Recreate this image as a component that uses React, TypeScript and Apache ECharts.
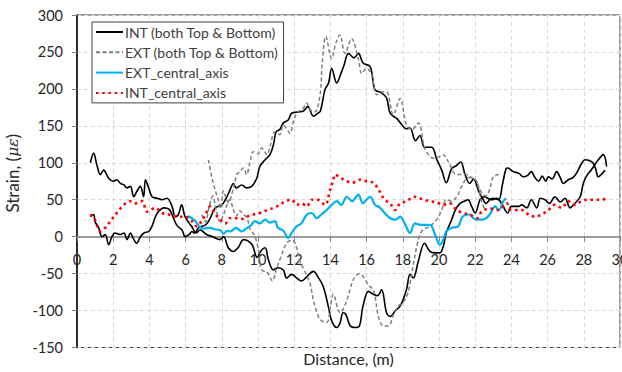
import React, { useEffect, useRef } from "react";
import * as echarts from "echarts";

// Distance (m) / strain (µε) pairs
const intUpperStart: number[][] = [
  [0.74, 100], [0.92, 113], [1.1, 97], [1.29, 84], [1.47, 90], [1.75, 79], [2.0, 75], [2.2, 77], [2.4, 72],
  [2.6, 70], [2.76, 66], [2.95, 68], [3.13, 54], [3.3, 61], [3.5, 68], [3.68, 54], [3.78, 77], [3.96, 66],
  [4.15, 54], [4.42, 52], [4.7, 50], [4.97, 52], [5.25, 41], [5.43, 27], [5.6, 30], [5.78, 43], [5.97, 27],
  [6.33, 14], [6.6, 5], [6.8, 9], [7.16, 3], [7.5, 0], [7.9, -4], [8.1, 0], [8.36, -15], [8.64, -20],
  [8.9, -15], [9.2, -4], [9.47, -6], [9.7, -12], [9.95, -28], [10.2, -18], [10.4, -15], [10.57, -31],
  [10.85, -45], [11.1, -42], [11.4, -45], [11.58, -56], [11.86, -51], [12.14, -56], [12.4, -60], [12.7, -54],
  [13.06, -47], [13.3, -54], [13.6, -67], [13.9, -96], [14.07, -114], [14.35, -123], [14.53, -117],
  [14.7, -103], [14.85, -105], [15.1, -121], [15.36, -123], [15.6, -121], [15.8, -94], [16.1, -74],
  [16.37, -78], [16.6, -80], [16.83, -72], [17.1, -103], [17.3, -108], [17.57, -101], [17.9, -92],
  [18.2, -72], [18.4, -51], [18.58, -56], [18.86, -33], [19.2, -9], [19.5, -20], [19.78, -22], [20.05, -22],
  [20.24, -13], [20.4, 5], [20.7, 23], [20.9, 36], [21.16, 45], [21.4, 48], [21.6, 50], [21.8, 41],
  [22.0, 32], [22.27, 50], [22.5, 54], [22.9, 50], [23.2, 52], [23.46, 45], [23.8, 32], [24.0, 41],
  [24.4, 41], [24.57, 43], [24.85, 39], [25.1, 50], [25.4, 39], [25.6, 52], [25.86, 50], [26.1, 45],
  [26.4, 54], [26.7, 47], [26.96, 52], [27.24, 39], [27.5, 45], [27.8, 54], [27.97, 72], [28.15, 82],
  [28.43, 91], [28.8, 104], [29.08, 111], [29.26, 95],
];

const intLowerStart: number[][] = [
  [0.74, 27], [0.92, 30], [1.0, 20], [1.2, 12], [1.38, 0], [1.56, 3], [1.75, -11], [1.93, 0], [2.1, 5],
  [2.4, 3], [2.6, 5], [2.76, -4], [2.95, 5], [3.1, -2], [3.3, -9], [3.5, 0], [3.7, 5], [3.96, 7], [4.14, 14],
  [4.33, 27], [4.5, 34], [4.8, 39], [5.1, 37], [5.25, 30], [5.5, 16], [5.8, 9], [5.98, 0], [6.2, 3],
  [6.35, 7], [6.5, 5], [6.72, 12], [7.1, 16], [7.3, 22], [7.64, 39], [8.0, 43], [8.2, 50], [8.45, 63],
  [8.64, 72], [8.8, 66], [9.1, 70], [9.37, 66], [9.65, 68], [9.93, 79], [10.1, 95], [10.39, 104],
  [10.66, 111], [10.85, 124], [11.0, 142], [11.2, 145], [11.4, 154], [11.67, 158], [11.86, 167],
  [12.3, 169], [12.5, 170], [12.75, 176], [13.06, 163], [13.3, 167], [13.45, 170], [13.7, 199],
  [13.9, 208], [14.07, 228], [14.35, 208], [14.6, 222], [14.75, 232], [15.0, 248], [15.3, 242],
  [15.55, 248], [15.8, 235], [16.2, 230], [16.46, 199], [16.8, 195], [17.1, 188], [17.3, 167],
  [17.66, 160], [17.93, 152], [18.2, 146], [18.4, 147], [18.7, 130], [18.95, 137], [19.2, 121],
  [19.6, 121], [19.87, 105], [20.15, 90], [20.4, 73], [20.7, 92], [20.95, 96], [21.2, 101], [21.44, 84],
  [21.7, 72], [21.9, 78], [22.2, 61], [22.4, 52], [22.6, 45], [22.8, 50], [23.0, 52], [23.3, 50],
  [23.5, 70], [23.7, 92], [23.8, 93], [24.1, 88], [24.4, 86], [24.66, 81], [24.9, 83], [25.1, 88],
  [25.3, 80], [25.5, 75], [25.7, 82], [25.9, 75], [26.04, 81], [26.25, 78], [26.5, 88], [26.7, 80],
  [26.87, 72], [27.14, 77], [27.4, 80], [27.6, 86], [27.9, 100], [28.07, 104], [28.3, 103], [28.5, 100],
  [28.65, 92], [28.8, 81], [29.0, 85], [29.17, 90],
];

const extUpper: number[][] = [
  [7.26, 104], [7.5, 75], [7.8, 50], [7.95, 38], [8.08, 62], [8.2, 55], [8.36, 46], [8.6, 62], [8.85, 85],
  [9.0, 88], [9.19, 93], [9.37, 84], [9.55, 100], [9.74, 115], [10.0, 112], [10.2, 120], [10.5, 111],
  [10.66, 122], [10.94, 142], [11.2, 138], [11.4, 151], [11.77, 140], [11.95, 156], [12.2, 169],
  [12.45, 172], [12.69, 181], [12.87, 172], [13.15, 169], [13.43, 192], [13.55, 235], [13.75, 271],
  [14.07, 241], [14.3, 262], [14.53, 273], [14.8, 248], [15.17, 268], [15.54, 241], [15.73, 221],
  [16.0, 228], [16.28, 219], [16.56, 192], [16.85, 196], [17.1, 196], [17.47, 165], [17.85, 187],
  [18.2, 151], [18.5, 145], [18.86, 154], [19.2, 120], [19.45, 110], [19.7, 106], [20.0, 108],
  [20.24, 111], [20.5, 102], [20.98, 84], [21.5, 84], [21.8, 80], [22.08, 75], [22.3, 52], [22.5, 38],
];

const extLower: number[][] = [
  [6.9, 30], [7.1, 20], [7.3, 40], [7.5, 55], [7.7, 35], [7.9, 20], [8.1, 30], [8.45, 50], [8.6, 40],
  [8.8, 28], [9.0, 35], [9.2, 30], [9.4, 25], [9.56, 10], [9.8, 2], [10.0, -15], [10.2, -45], [10.5, -48],
  [10.8, -60], [11.0, -45], [11.3, -25], [11.6, -8], [11.9, -5], [12.1, -12], [12.3, -32], [12.55, -45],
  [12.87, -63], [13.1, -90], [13.43, -112], [13.8, -116], [14.0, -95], [14.16, -78], [14.53, -103],
  [14.85, -90], [15.27, -58], [15.6, -50], [16.1, -65], [16.4, -74], [16.65, -108], [16.93, -121],
  [17.2, -121], [17.5, -105], [17.75, -94], [18.05, -88], [18.3, -75], [18.5, -49], [18.86, -4], [19.1, 9],
  [19.5, 14], [19.87, 23], [20.15, 36], [20.4, 50], [20.7, 48], [21.0, 55], [21.3, 70], [21.6, 80],
  [22.0, 77], [22.3, 62], [22.6, 55], [22.8, 64], [23.0, 81], [23.3, 84],
];

const extCentral: number[][] = [
  [6.15, 28], [6.5, 22], [6.8, 13], [7.0, 11], [7.35, 12], [7.6, 10], [7.9, 9], [8.1, 4], [8.3, 8],
  [8.45, 7], [8.8, 12], [9.1, 7], [9.4, 12], [9.6, 15], [9.83, 21], [10.1, 18], [10.4, 23], [10.65, 19],
  [10.94, 21], [11.1, 12], [11.4, 8], [11.67, -2], [11.86, 5], [12.14, 14], [12.4, 18], [12.7, 30],
  [12.97, 32], [13.24, 25], [13.5, 30], [13.8, 36], [14.07, 43], [14.35, 48], [14.6, 43], [14.9, 54],
  [15.2, 48], [15.54, 57], [15.8, 45], [16.0, 50], [16.2, 54], [16.46, 43], [16.7, 40], [17.0, 32],
  [17.3, 25], [17.6, 23], [17.85, 27], [18.1, 18], [18.4, 5], [18.67, 18], [19.0, 16], [19.5, 16],
  [19.78, 3], [20.05, -11], [20.24, -4], [20.4, 7], [20.7, 12], [21.07, 14], [21.3, 27], [21.7, 30],
  [21.9, 25], [22.1, 23], [22.4, 23], [22.6, 25], [22.8, 30], [23.1, 41], [23.3, 36], [23.55, 48],
  [23.7, 52],
];

const intCentral: number[][] = [
  [0.74, 30], [1.0, 22], [1.29, 7], [1.56, 12], [1.84, 21], [2.2, 32], [2.58, 43], [2.95, 48], [3.2, 45],
  [3.6, 48], [3.87, 34], [4.33, 39], [4.7, 32], [5.06, 30], [5.52, 27], [5.97, 27], [6.35, 21], [6.63, 14],
  [6.9, 22], [7.1, 30], [7.35, 41], [7.6, 32], [7.9, 23], [8.2, 18], [8.45, 25], [8.8, 25], [9.1, 24],
  [9.37, 27], [9.74, 30], [10.1, 32], [10.5, 36], [10.85, 39], [11.2, 43], [11.5, 48], [11.86, 50],
  [12.14, 43], [12.4, 45], [12.7, 41], [12.97, 50], [13.3, 50], [13.7, 43], [13.98, 63], [14.16, 77],
  [14.25, 84], [14.6, 79], [14.9, 75], [15.2, 73], [15.64, 77], [16.0, 75], [16.37, 73], [16.65, 64],
  [17.0, 50], [17.3, 45], [17.57, 36], [17.85, 45], [18.2, 48], [18.67, 54], [19.13, 50], [19.5, 48],
  [19.9, 46], [20.24, 43], [20.6, 45], [20.98, 36], [21.34, 32], [21.7, 30], [22.1, 25], [22.36, 34],
  [22.8, 38], [23.28, 36], [23.74, 45], [24.0, 36], [24.57, 36], [24.94, 30], [25.3, 27], [25.67, 30],
  [26.04, 36], [26.4, 43], [26.78, 39], [27.14, 48], [27.5, 43], [27.87, 48], [28.25, 50], [28.6, 50],
  [29.0, 50], [29.26, 52],
];

const legendNames = [
  "INT (both Top & Bottom)",
  "EXT (both Top & Bottom)",
  "EXT_central_axis",
  "INT_central_axis",
];

const FONT = "Lato";
const GRID_TOP = 15;
const GRID_BOTTOM = 24.5;
const CHART_H = 372;
const Y_MIN = -150;
const Y_MAX = 300;

export default function App() {
  const ref = useRef<HTMLDivElement>(null);

  useEffect(() => {
    if (!ref.current) return;
    const chart = echarts.init(ref.current, null, { renderer: "svg" });

    // distance from the bottom of the plot to the zero line, so the x axis sits on y = 0
    const plotH = CHART_H - GRID_TOP - GRID_BOTTOM;
    const zeroOffset = (plotH * (0 - Y_MIN)) / (Y_MAX - Y_MIN);
    const bottomEdge = CHART_H - GRID_BOTTOM;

    const intStyle = { color: "#000000", width: 1.6, type: "solid" as const };
    const extStyle = { color: "#7f7f7f", width: 1.5, type: [4, 2.5] as any };

    chart.setOption({
      animation: false,
      backgroundColor: "#ffffff",
      grid: {
        show: true,
        left: 77,
        right: 2,
        top: GRID_TOP,
        bottom: GRID_BOTTOM,
        borderColor: "#404040",
        borderWidth: 1,
        containLabel: false,
        outerBoundsMode: "none",
      },
      legend: {
        data: legendNames,
        orient: "vertical",
        left: 92,
        top: 22,
        itemWidth: 27,
        itemHeight: 14,
        itemGap: 6.3,
        padding: [3, 5, 3, 3],
        backgroundColor: "#ffffff",
        borderColor: "#404040",
        borderWidth: 1,
        borderRadius: 0,
        itemStyle: { opacity: 0 },
        textStyle: { fontFamily: FONT, fontSize: 14, color: "#404040", padding: [0, 0, 0, -3] },
      },
      xAxis: {
        type: "value",
        position: "bottom",
        offset: -zeroOffset,
        min: 0,
        max: 30,
        interval: 2,
        name: "Distance, (m)",
        nameLocation: "middle",
        nameGap: 359 - (bottomEdge - zeroOffset) - 9,
        nameTextStyle: { fontFamily: FONT, fontSize: 16, color: "#262626" },
        axisLine: { onZero: false, lineStyle: { color: "#808080", width: 1.5 } },
        axisTick: { show: true, length: 5, lineStyle: { color: "#808080" } },
        axisLabel: { fontFamily: FONT, fontSize: 14.5, color: "#262626", margin: 15 },
        splitLine: { show: true, lineStyle: { color: "#d9d9d9", type: [4, 3], width: 1 } },
      },
      yAxis: {
        type: "value",
        min: Y_MIN,
        max: Y_MAX,
        interval: 50,
        name: "Strain, ({i|με})",
        nameLocation: "middle",
        nameRotate: 90,
        nameGap: 52,
        nameTextStyle: {
          fontFamily: FONT,
          fontSize: 17,
          color: "#262626",
          padding: [0, 0, 0, 16],
          rich: { i: { fontStyle: "italic", fontFamily: "DejaVu Serif", fontSize: 15.5, color: "#262626" } },
        },
        axisLine: { show: true, onZero: false, lineStyle: { color: "#000000", width: 1.5 } },
        axisTick: { show: true, length: 5, lineStyle: { color: "#808080" } },
        axisLabel: { fontFamily: FONT, fontSize: 14.5, color: "#262626", margin: 14 },
        splitLine: { show: true, lineStyle: { color: "#d9d9d9", type: [4, 3], width: 1 } },
      },
      series: [
        { name: legendNames[0], type: "line", data: intUpperStart, showSymbol: false, symbol: "none", smooth: 0.35, lineStyle: intStyle, itemStyle: { color: "#000000" } },
        { name: legendNames[0], type: "line", data: intLowerStart, showSymbol: false, symbol: "none", smooth: 0.35, lineStyle: intStyle, itemStyle: { color: "#000000" } },
        { name: legendNames[1], type: "line", data: extUpper, showSymbol: false, symbol: "none", smooth: 0.35, lineStyle: extStyle, itemStyle: { color: "#7f7f7f" } },
        { name: legendNames[1], type: "line", data: extLower, showSymbol: false, symbol: "none", smooth: 0.35, lineStyle: extStyle, itemStyle: { color: "#7f7f7f" } },
        { name: legendNames[2], type: "line", data: extCentral, showSymbol: false, symbol: "none", smooth: 0.35, lineStyle: { color: "#00b0f0", width: 2.2 }, itemStyle: { color: "#00b0f0" } },
        { name: legendNames[3], type: "line", data: intCentral, showSymbol: false, symbol: "none", smooth: 0.35, lineStyle: { color: "#ff0000", width: 2.6, type: [2.6, 3.6] }, itemStyle: { color: "#ff0000" } },
      ],
    });

    return () => chart.dispose();
  }, []);

  return (
    <div
      ref={ref}
      style={{ position: "fixed", left: 0, top: 0, width: 622, height: 372, background: "#fff" }}
    />
  );
}
